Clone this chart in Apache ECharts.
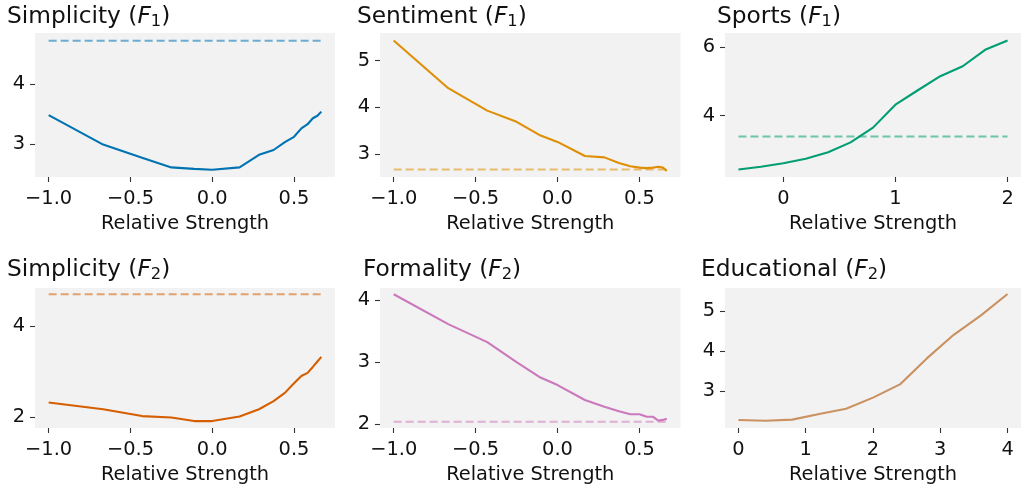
<!DOCTYPE html>
<html>
<head>
<meta charset="utf-8">
<script src="https://cdn.jsdelivr.net/npm/echarts@6/dist/echarts.min.js"></script>
<style>
html,body{margin:0;padding:0;background:#fff;}
#c{width:1021px;height:485px;}
</style>
</head>
<body>
<div id="c"></div>
<script>
// ---- data ----
const relX = [-1, -0.667, -0.429, -0.25, -0.111, 0, 0.167, 0.286, 0.375, 0.444, 0.5, 0.545, 0.583, 0.615, 0.643, 0.667];
const simplicityF1 = [3.48, 2.99, 2.77, 2.61, 2.585, 2.57, 2.61, 2.82, 2.90, 3.03, 3.12, 3.26, 3.33, 3.43, 3.47, 3.54];
const sentimentF1 = [5.43, 4.41, 3.93, 3.69, 3.41, 3.26, 2.96, 2.93, 2.81, 2.74, 2.71, 2.70, 2.71, 2.73, 2.71, 2.64];
const simplicityF2 = [2.32, 2.17, 2.02, 1.99, 1.91, 1.91, 2.01, 2.17, 2.35, 2.53, 2.74, 2.90, 2.97, 3.10, 3.22, 3.32];
const formalityF2 = [4.09, 3.61, 3.32, 3.00, 2.76, 2.63, 2.39, 2.28, 2.21, 2.16, 2.16, 2.12, 2.12, 2.06, 2.07, 2.09];
const sportsX = [-0.4, -0.2, 0, 0.2, 0.4, 0.6, 0.8, 1.0, 1.2, 1.4, 1.6, 1.8, 2.0];
const sportsF1 = [2.43, 2.51, 2.61, 2.74, 2.93, 3.22, 3.65, 4.32, 4.74, 5.15, 5.44, 5.92, 6.19];
const eduX = [0, 0.4, 0.8, 1.2, 1.6, 2.0, 2.4, 2.8, 3.2, 3.6, 4.0];
const educationalF2 = [2.28, 2.26, 2.29, 2.43, 2.56, 2.84, 3.17, 3.82, 4.41, 4.89, 5.43];
const baselines = {simpF1: 4.72, sentF1: 2.67, sportsF1: 3.39, simpF2: 4.70, formF2: 2.04};

const titlesMain = ['Simplicity', 'Sentiment', 'Sports', 'Simplicity', 'Formality', 'Educational'];
const titlesSub = ['1', '1', '1', '2', '2', '2'];

const xTicksRel = [-1, -0.5, 0, 0.5];
const xLabelsRel = ['\u22121.0', '\u22120.5', '0.0', '0.5'];
const xTicksSports = [0, 1, 2];
const xTicksEdu = [0, 1, 2, 3, 4];
const yTicks = [[3, 4], [3, 4, 5], [4, 6], [2, 4], [2, 3, 4], [3, 4, 5]];

const colors = ['#0173b2', '#de8f05', '#029e73', '#d55e00', '#cc78bc', '#ca9161'];

// ---- layout ----
const FONT = 'DejaVu Sans';
const colLeft = [35, 380, 725];
const colWidth = [300, 300.5, 299];
const rowTop = [33, 288];
const rowHeight = [144, 142.5];
const titlePos = [[7, 4], [357, 4], [717, 4], [7, 257], [363, 257], [701, 257]];
const xRanges = [[-1.0835, 0.7505], [-1.0835, 0.7505], [-0.52, 2.12], [-1.0835, 0.7505], [-1.0835, 0.7505], [-0.2, 4.2]];
const yRanges = [[2.45, 4.85], [2.51, 5.59], [2.21, 6.41], [1.758, 4.835], [1.94, 4.19], [2.08, 5.58]];

const grids = [], xAxes = [], yAxes = [], series = [], titles = [];

function fmtX(v, ticks, labels) {
  const i = ticks.findIndex(t => Math.abs(t - v) < 1e-9);
  if (i >= 0 && labels) return labels[i];
  return String(v);
}

for (let i = 0; i < 6; i++) {
  const r = Math.floor(i / 3), c = i % 3;
  grids.push({left: colLeft[c], top: rowTop[r], width: colWidth[c], height: rowHeight[r],
    show: true, backgroundColor: '#f2f2f2', borderWidth: 0, containLabel: false});
  let xt, xl;
  if (c === 2) { xt = (r === 0) ? xTicksSports : xTicksEdu; xl = xt.map(String); }
  else { xt = xTicksRel; xl = xLabelsRel; }
  xAxes.push({
    type: 'value', gridIndex: i, min: xRanges[i][0], max: xRanges[i][1], position: 'bottom',
    name: 'Relative Strength', nameLocation: 'middle', nameGap: 37,
    nameTextStyle: {fontFamily: FONT, fontSize: 19.4, color: '#111'},
    axisLine: {show: false, onZero: false}, splitLine: {show: false},
    axisTick: {show: true, customValues: xt, length: 5, lineStyle: {color: '#333', width: 1.1}},
    axisLabel: {show: true, customValues: xt, margin: 12, fontFamily: FONT, fontSize: 19.4, color: '#111',
      formatter: (v) => fmtX(v, xt, xl)}
  });
  yAxes.push({
    type: 'value', gridIndex: i, min: yRanges[i][0], max: yRanges[i][1], position: 'left',
    axisLine: {show: false, onZero: false}, splitLine: {show: false},
    axisTick: {show: true, customValues: yTicks[i], length: 5, lineStyle: {color: '#333', width: 1.1}},
    axisLabel: {show: true, customValues: yTicks[i], margin: 10, fontFamily: FONT, fontSize: 19.4, color: '#111',
      formatter: (v) => String(v)}
  });
  titles.push({
    left: titlePos[i][0], top: titlePos[i][1], padding: 0,
    text: '{n|' + titlesMain[i] + ' (}{f|F}{s|' + titlesSub[i] + '}{n|)}',
    textStyle: {
      fontWeight: 'normal',
      rich: {
        n: {fontFamily: FONT, fontSize: 23.3, fontWeight: 'normal', color: '#111', lineHeight: 26},
        f: {fontFamily: FONT, fontSize: 23.3, fontWeight: 'normal', fontStyle: 'italic', color: '#111', lineHeight: 26},
        s: {fontFamily: FONT, fontSize: 16.3, fontWeight: 'normal', color: '#111', verticalAlign: 'bottom'}
      }
    }
  });
}

function pairs(xs, ys) { return xs.map((x, k) => [x, ys[k]]); }
function dashed(idx, xs, b) {
  return {type: 'line', xAxisIndex: idx, yAxisIndex: idx, data: [[xs[0], b], [xs[xs.length - 1], b]],
    showSymbol: false, silent: true, z: 2,
    lineStyle: {color: colors[idx], width: 2, opacity: 0.55, type: [8, 4]}};
}
function solid(idx, xs, ys) {
  return {type: 'line', xAxisIndex: idx, yAxisIndex: idx, data: pairs(xs, ys),
    showSymbol: false, silent: true, z: 3,
    lineStyle: {color: colors[idx], width: 2.1}};
}

series.push(dashed(0, relX, baselines.simpF1), solid(0, relX, simplicityF1));
series.push(dashed(1, relX, baselines.sentF1), solid(1, relX, sentimentF1));
series.push(dashed(2, sportsX, baselines.sportsF1), solid(2, sportsX, sportsF1));
series.push(dashed(3, relX, baselines.simpF2), solid(3, relX, simplicityF2));
series.push(dashed(4, relX, baselines.formF2), solid(4, relX, formalityF2));
series.push(solid(5, eduX, educationalF2));

const chart = echarts.init(document.getElementById('c'), null, {renderer: 'canvas'});
chart.setOption({
  animation: false,
  backgroundColor: '#ffffff',
  title: titles,
  grid: grids,
  xAxis: xAxes,
  yAxis: yAxes,
  series: series
});
</script>
</body>
</html>
